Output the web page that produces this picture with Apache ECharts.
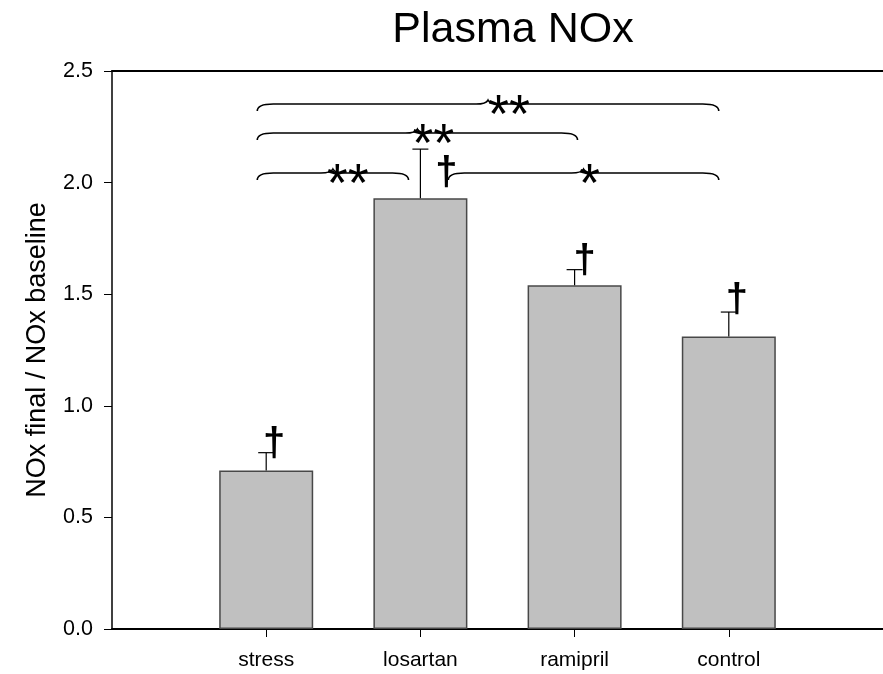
<!DOCTYPE html>
<html>
<head>
<meta charset="utf-8">
<script src="https://cdn.jsdelivr.net/npm/echarts@6/dist/echarts.min.js"></script>
<style>html,body{margin:0;padding:0;background:#fff}#c{width:883px;height:674px}</style>
</head>
<body>
<div id="c"></div>
<script>
// ---- data ----
const categories = ['stress', 'losartan', 'ramipril', 'control'];
const positions = [1, 2, 3, 4];
const means = [0.71, 1.93, 1.54, 1.31];
const errors = [0.08, 0.22, 0.07, 0.11];
const yTicks = [0.0, 0.5, 1.0, 1.5, 2.0, 2.5];
// significance braces: [xStart, xEnd, yLevel]
const braces = [[0.942, 3.935, 2.352], [0.942, 3.019, 2.222], [0.942, 1.923, 2.043], [2.181, 3.935, 2.043]];
// significance labels: [x, y, text]
const sigLabels = [[2.574, 2.352, '**'], [2.084, 2.222, '**'], [1.529, 2.043, '**'], [3.097, 2.043, '*']];
// dagger annotations: [x, y]
const daggers = [[1.052, 0.827], [2.168, 2.041], [3.065, 1.647], [4.052, 1.472]];

const FONT = 'Liberation Sans, Arial, sans-serif';
const chart = echarts.init(document.getElementById('c'), null, {renderer: 'canvas'});

const barData = positions.map((p, i) => [p, means[i]]);
const errData = positions.map((p, i) => [p, means[i], errors[i]]);

chart.setOption({
  animation: false,
  backgroundColor: '#fff',
  title: {
    text: 'Plasma NOx', left: 508, top: 4, textAlign: 'center',
    textStyle: {fontFamily: FONT, fontSize: 43, fontWeight: 'normal', color: '#000'}
  },
  grid: {left: 112, top: 71, width: 775, height: 558, containLabel: false},
  xAxis: [{
    type: 'value', min: 0, max: 5, interval: 1, position: 'bottom',
    axisLine: {show: true, onZero: false, lineStyle: {color: '#000', width: 2}},
    axisTick: {show: true, customValues: positions, length: 8, inside: false, lineStyle: {color: '#000', width: 1}},
    axisLabel: {show: true, customValues: positions, margin: 21, fontFamily: FONT, fontSize: 21, color: '#000',
      formatter: v => categories[positions.indexOf(v)] || ''},
    splitLine: {show: false}
  }, {
    type: 'value', min: 0, max: 5, position: 'top',
    axisLine: {show: true, onZero: false, lineStyle: {color: '#000', width: 2}},
    axisTick: {show: false}, axisLabel: {show: false}, splitLine: {show: false}
  }],
  yAxis: {
    type: 'value', min: 0, max: 2.5, interval: 0.5,
    name: 'NOx final / NOx baseline', nameLocation: 'middle', nameGap: 61,
    nameTextStyle: {fontFamily: FONT, fontSize: 27, color: '#000'},
    axisLine: {show: true, lineStyle: {color: '#000', width: 1.5}},
    axisTick: {show: true, length: 8, inside: false, lineStyle: {color: '#000', width: 1}},
    axisLabel: {margin: 19, fontFamily: FONT, fontSize: 21.5, color: '#000',
      formatter: v => v.toFixed(1)},
    splitLine: {show: false}
  },
  series: [{
    type: 'bar', xAxisIndex: 0, data: barData, barWidth: 94,
    itemStyle: {color: '#c0c0c0', borderColor: '#484848', borderWidth: 1.5}
  }, {
    type: 'custom', xAxisIndex: 0, data: errData, clip: false, z: 3,
    renderItem: (params, api) => {
      const x = api.value(0), m = api.value(1), e = api.value(2);
      const p0 = api.coord([x, m]), p1 = api.coord([x, m + e]);
      const st = {stroke: '#000', lineWidth: 1.2};
      return {type: 'group', children: [
        {type: 'line', shape: {x1: p0[0], y1: p0[1], x2: p1[0], y2: p1[1]}, style: st},
        {type: 'line', shape: {x1: p1[0] - 8, y1: p1[1], x2: p1[0] + 8, y2: p1[1]}, style: st}
      ]};
    }
  }, {
    type: 'custom', xAxisIndex: 0, data: braces, clip: false, z: 4,
    renderItem: (params, api) => {
      const a = api.coord([api.value(0), api.value(2)]);
      const b = api.coord([api.value(1), api.value(2)]);
      const x0 = a[0], x1 = b[0], y = a[1], m = (x0 + x1) / 2;
      const d = `M${x0},${y + 7} Q${x0},${y} ${x0 + 16},${y} L${m - 12},${y} Q${m - 2},${y} ${m},${y - 4} Q${m + 2},${y} ${m + 12},${y} L${x1 - 16},${y} Q${x1},${y} ${x1},${y + 7}`;
      return {type: 'path', shape: {pathData: d}, style: {stroke: '#000', lineWidth: 1.6, fill: null}};
    }
  }, {
    type: 'custom', xAxisIndex: 0, data: sigLabels, clip: false, z: 5,
    renderItem: (params, api) => {
      const p = api.coord([api.value(0), api.value(1)]);
      return {type: 'text', x: p[0], y: p[1] + 13, style: {
        text: sigLabels[params.dataIndex][2], fontFamily: FONT, fontSize: 54,
        fill: '#000', align: 'center', verticalAlign: 'middle'}};
    }
  }, {
    type: 'custom', xAxisIndex: 0, data: daggers, clip: false, z: 5,
    renderItem: (params, api) => {
      const p = api.coord([api.value(0), api.value(1)]);
      return {type: 'text', x: p[0], y: p[1] + 1, style: {
        text: '\u2020', fontFamily: FONT, fontSize: 40, fontWeight: 'bold',
        fill: '#000', align: 'center', verticalAlign: 'middle'}};
    }
  }]
});
</script>
</body>
</html>
